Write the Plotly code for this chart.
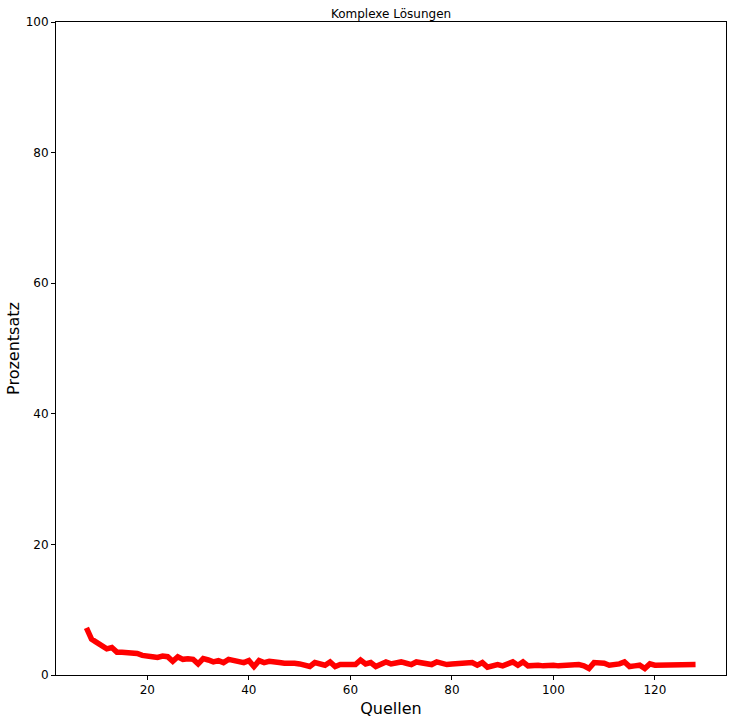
import plotly.graph_objects as go

quellen = list(range(8, 129))
prozentsatz = [
    7.2, 5.5, 5.0, 4.5, 4.0, 4.2, 3.5, 3.5, 3.5, 3.3, 3.3, 3.0, 3.0, 2.8, 2.7, 2.9,
    2.8, 2.1, 2.8, 2.4, 2.5, 2.4, 1.7, 2.5, 2.3, 2.0, 2.2, 1.9, 2.4, 2.3, 2.1, 1.9,
    2.2, 1.3, 2.2, 1.9, 2.1, 1.9, 1.9, 1.8, 1.9, 1.8, 1.7, 1.6, 1.3, 1.9, 1.7, 1.5,
    2.0, 1.3, 1.6, 1.5, 1.6, 1.6, 2.3, 1.7, 1.9, 1.3, 1.7, 2.0, 1.7, 1.9, 2.0, 1.8,
    1.6, 2.0, 1.9, 1.8, 1.6, 2.0, 1.8, 1.6, 1.7, 1.7, 1.9, 1.8, 1.9, 1.5, 1.9, 1.2,
    1.5, 1.6, 1.4, 1.6, 2.0, 1.5, 2.0, 1.4, 1.5, 1.5, 1.4, 1.5, 1.5, 1.4, 1.5, 1.5,
    1.5, 1.6, 1.4, 1.0, 1.9, 1.9, 1.8, 1.5, 1.5, 1.7, 2.0, 1.3, 1.4, 1.5, 1.0, 1.7,
    1.5, 1.5, 1.6, 1.6, 1.7, 1.5, 1.6, 1.7, 1.6,
]
x_ticks = [20, 40, 60, 80, 100, 120]
y_ticks = [0, 20, 40, 60, 80, 100]

fig = go.Figure(go.Scatter(x=quellen, y=prozentsatz, mode="lines",
                           line=dict(color="red", width=5.5)))

axis_common = dict(showline=True, linecolor="black", linewidth=1, mirror=True,
                   ticks="outside", ticklen=4, tickcolor="black", showgrid=False,
                   zeroline=False, tickfont=dict(size=12, color="black"))

fig.update_layout(
    width=732, height=721,
    margin=dict(l=56, r=6, t=22, b=46),
    paper_bgcolor="white", plot_bgcolor="white",
    font=dict(family="DejaVu Sans", color="black"),
    title=dict(text="Komplexe Lösungen", x=0.5, xanchor="center", xref="paper",
               y=1, yref="paper", yanchor="bottom", pad=dict(b=4),
               font=dict(size=12, color="black")),
    showlegend=False,
    xaxis=dict(range=[2, 134], tickvals=x_ticks,
               title=dict(text="Quellen", font=dict(size=16), standoff=6), **axis_common),
    yaxis=dict(range=[0, 100], tickvals=y_ticks,
               title=dict(text="Prozentsatz", font=dict(size=16), standoff=2), **axis_common),
)

fig.write_html("out.html", config={"displayModeBar": False},
               post_script="document.body.style.margin='0';")
